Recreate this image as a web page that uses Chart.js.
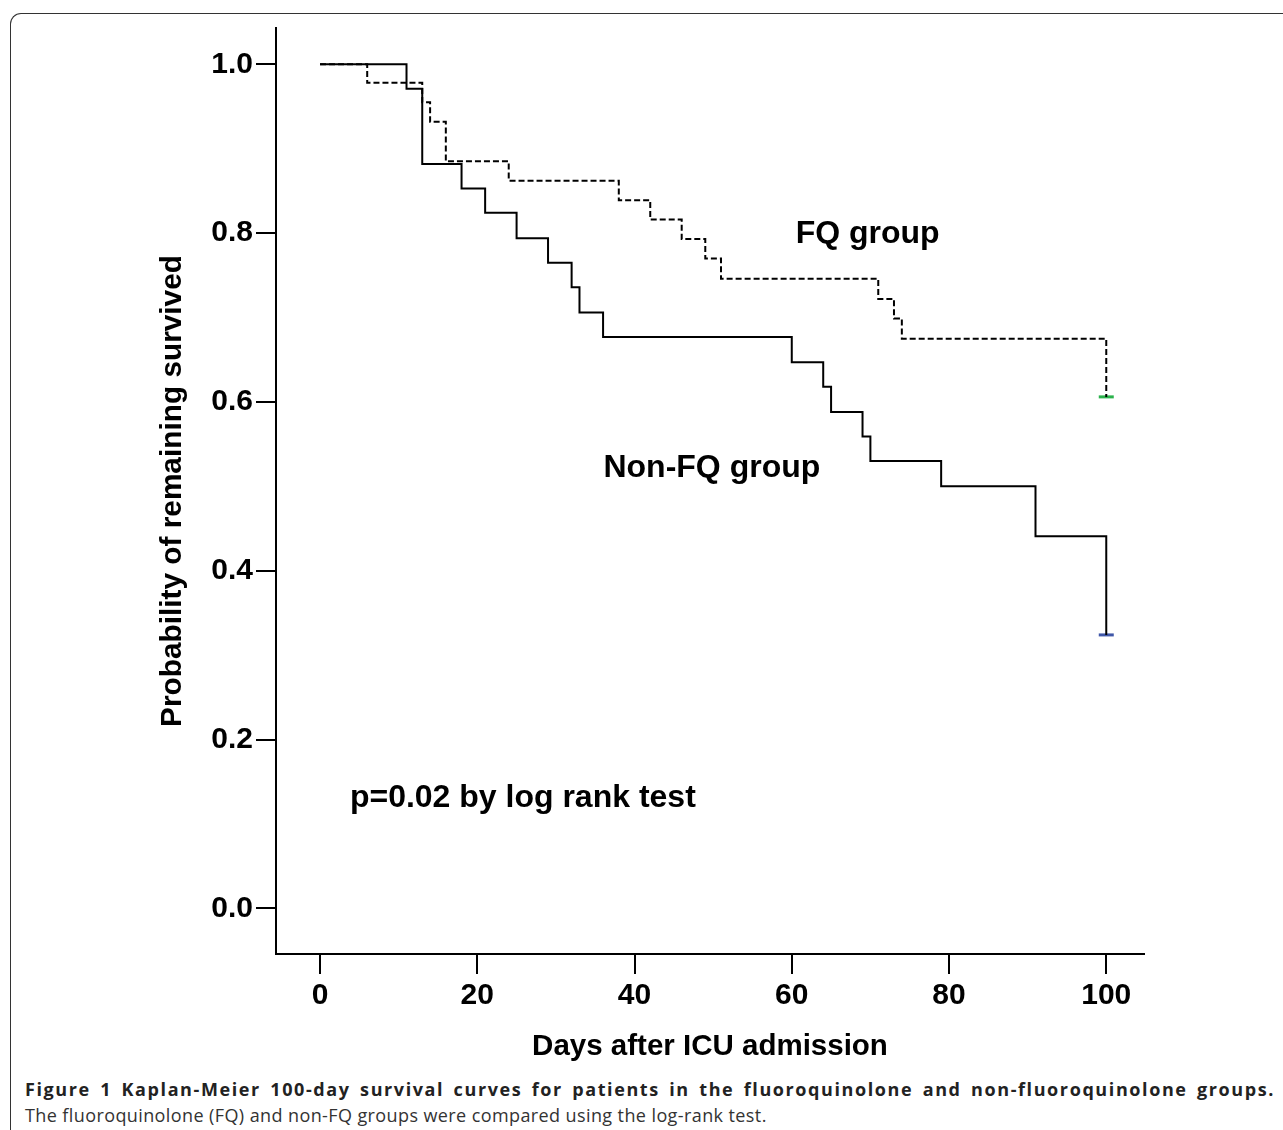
<!DOCTYPE html>
<html>
<head>
<meta charset="utf-8">
<script src="https://cdn.jsdelivr.net/npm/chart.js@4"></script>
<style>
  body { margin: 0; background: #fff; width: 1283px; height: 1130px; overflow: hidden; position: relative; }
  #frame { position: absolute; left: 10px; top: 13px; width: 1400px; height: 1300px;
           border-left: 1.5px solid #333; border-top: 1.5px solid #333; border-top-left-radius: 11px; }
  #chart { position: absolute; left: 0; top: 0; }
  #caption { position: absolute; left: 25px; top: 1076px; width: 1250px; font-family: "Open Sans", sans-serif; }
  #caption .l1 { font-weight: bold; font-size: 18px; letter-spacing: 1.6px; white-space: nowrap; color: #222; text-align: justify; text-align-last: justify; line-height: 26px; }
  #caption .l2 { font-size: 18px; letter-spacing: 0.4px; color: #333; line-height: 26px; }
</style>
</head>
<body>
<div id="frame"></div>
<canvas id="chart" width="1283" height="1070"></canvas>
<div id="caption">
  <div class="l1">Figure 1 Kaplan-Meier 100-day survival curves for patients in the fluoroquinolone and non-fluoroquinolone groups.</div>
  <div class="l2">The fluoroquinolone (FQ) and non-FQ groups were compared using the log-rank test.</div>
</div>
<script>
// days at which each curve steps down, and survival after the step
const fqDays = [0, 6, 13, 14, 16, 24, 38, 42, 46, 49, 51, 71, 73, 74, 100];
const fqSurv = [1.0, 0.978, 0.955, 0.932, 0.885, 0.862, 0.839, 0.816, 0.793, 0.770, 0.746, 0.722, 0.699, 0.675, 0.606];

const nonFqDays = [0, 11, 13, 18, 21, 25, 29, 32, 33, 36, 60, 64, 65, 69, 70, 79, 91, 100];
const nonFqSurv = [1.0, 0.971, 0.882, 0.853, 0.824, 0.794, 0.765, 0.736, 0.706, 0.677, 0.647, 0.618, 0.588, 0.559, 0.530, 0.500, 0.441, 0.324];

// censored at end of follow-up
const fqCensor = [[100, 0.606]];
const nonFqCensor = [[100, 0.324]];

const xTicks = [0, 20, 40, 60, 80, 100];
const yTicks = [0.0, 0.2, 0.4, 0.6, 0.8, 1.0];

const labels = [
  { text: 'FQ group', x: 60.5, y: 0.799 },
  { text: 'Non-FQ group', x: 36.05, y: 0.522 },
  { text: 'p=0.02 by log rank test', x: 3.8, y: 0.131 }
];

function pts(xs, ys) {
  return xs.map((x, i) => ({ x: x, y: ys[i] }));
}

const textPlugin = {
  id: 'textLabels',
  afterDatasetsDraw(chart) {
    const c = chart.ctx;
    const xs = chart.scales.x, ys = chart.scales.y;
    c.save();
    c.font = 'bold 32px "Liberation Sans", Arial, sans-serif';
    c.fillStyle = '#000';
    c.textBaseline = 'middle';
    c.textAlign = 'left';
    labels.forEach(l => c.fillText(l.text, xs.getPixelForValue(l.x), ys.getPixelForValue(l.y)));
    c.restore();
  }
};

const tickFont = { family: '"Liberation Sans", Arial, sans-serif', size: 30, weight: 'bold' };
const titleFont = { family: '"Liberation Sans", Arial, sans-serif', size: 29.5, weight: 'bold' };

new Chart(document.getElementById('chart'), {
  type: 'line',
  data: {
    datasets: [
      {
        label: 'FQ group',
        data: pts(fqDays, fqSurv),
        stepped: true,
        borderColor: '#000',
        borderWidth: 2,
        borderDash: [6, 3],
        pointRadius: 0,
        fill: false
      },
      {
        label: 'Non-FQ group',
        data: pts(nonFqDays, nonFqSurv),
        stepped: true,
        borderColor: '#000',
        borderWidth: 2,
        pointRadius: 0,
        fill: false
      },
      {
        type: 'scatter',
        data: fqCensor.map(p => ({ x: p[0], y: p[1] })),
        pointStyle: 'line',
        pointRadius: 7.5,
        pointBorderWidth: 3,
        borderColor: '#2bb24c',
        backgroundColor: '#2bb24c'
      },
      {
        type: 'scatter',
        data: nonFqCensor.map(p => ({ x: p[0], y: p[1] })),
        pointStyle: 'line',
        pointRadius: 7.5,
        pointBorderWidth: 3,
        borderColor: '#3f57a8',
        backgroundColor: '#3f57a8'
      }
    ]
  },
  options: {
    responsive: false,
    animation: false,
    devicePixelRatio: 1,
    layout: { padding: { left: 150, top: 28, right: 139, bottom: 0 } },
    plugins: { legend: { display: false }, tooltip: { enabled: false } },
    scales: {
      x: {
        type: 'linear',
        min: -5.6,
        max: 104.8,
        afterFit: s => { s.height = 116; },
        afterBuildTicks: s => { s.ticks = xTicks.map(v => ({ value: v })); },
        grid: { drawOnChartArea: false, tickLength: 20, color: '#000', lineWidth: 2 },
        border: { color: '#000', width: 2 },
        ticks: { font: tickFont, color: '#000', padding: 4, maxRotation: 0 },
        title: { display: true, text: 'Days after ICU admission', font: titleFont, color: '#000', padding: { top: 0, bottom: 5 } }
      },
      y: {
        min: -0.054,
        max: 1.043,
        afterFit: s => { s.width = 126; },
        afterBuildTicks: s => { s.ticks = yTicks.map(v => ({ value: v })); },
        grid: { drawOnChartArea: false, tickLength: 20, color: '#000', lineWidth: 2 },
        border: { color: '#000', width: 2 },
        ticks: { font: tickFont, color: '#000', padding: 3, callback: v => v.toFixed(1) },
        title: { display: true, text: 'Probability of remaining survived', font: { family: titleFont.family, size: 29.8, weight: 'bold' }, color: '#000', padding: { top: 5, bottom: 0 } }
      }
    }
  },
  plugins: [textPlugin]
});
</script>
</body>
</html>
